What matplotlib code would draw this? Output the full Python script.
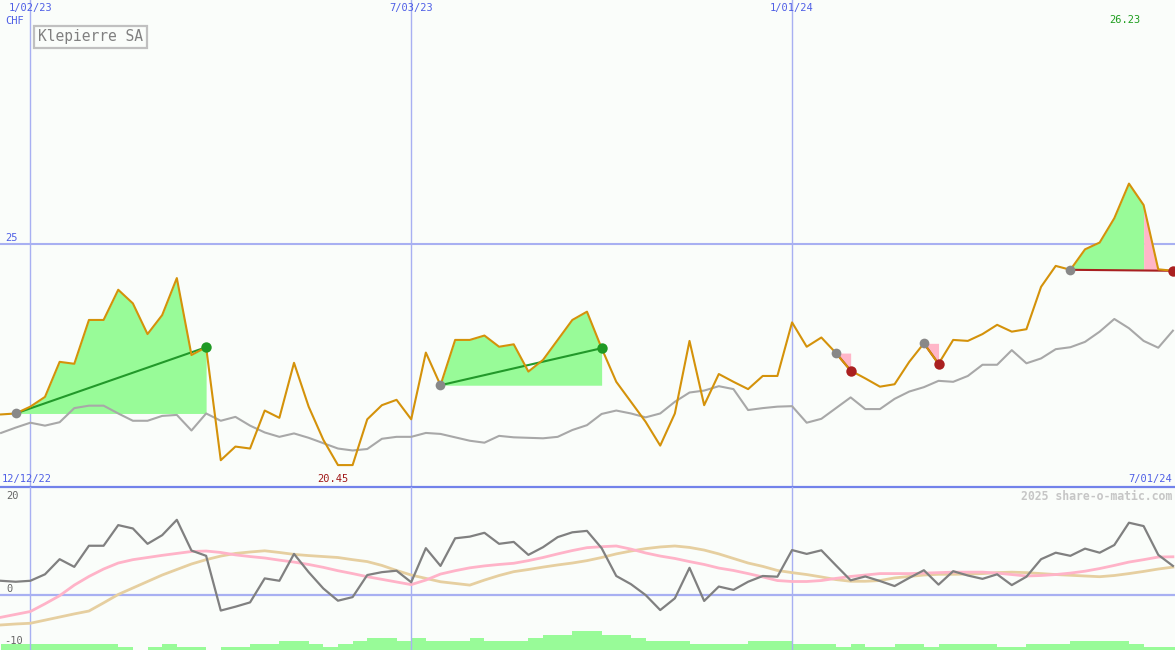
import pandas as pd
import matplotlib
matplotlib.use('Agg')
import matplotlib.pyplot as plt

# weekly data, Klepierre SA (CHF), first point 19 Dec 2022
start_date = '2022-12-19'

price = [21.49, 21.51, 21.65, 21.85, 22.57, 22.53, 23.43, 23.43, 24.05, 23.77,
         23.14, 23.53, 24.29, 22.71, 22.87, 20.55, 20.83, 20.79, 21.57, 21.42,
         22.55, 21.65, 20.97, 20.45, 20.45, 21.39, 21.68, 21.79, 21.39, 22.76,
         22.09, 23.02, 23.02, 23.11, 22.88, 22.93, 22.37, 22.61, 23.02, 23.43,
         23.60, 22.85, 22.16, 21.75, 21.34, 20.85, 21.51, 23.00, 21.68, 22.32,
         22.16, 22.01, 22.28, 22.28, 23.38, 22.88, 23.07, 22.75, 22.39, 22.23,
         22.06, 22.11, 22.57, 22.95, 22.53, 23.02, 23.00, 23.14, 23.33, 23.19,
         23.24, 24.11, 24.54, 24.46, 24.88, 25.02, 25.52, 26.23, 25.79, 24.47,
         24.44]

# relative strength line (grey, same scale as price)
relative = [21.11, 21.22, 21.32, 21.26, 21.33, 21.62, 21.67, 21.67, 21.51, 21.36,
            21.36, 21.46, 21.48, 21.16, 21.51, 21.36, 21.44, 21.26, 21.12, 21.03,
            21.10, 21.01, 20.90, 20.79, 20.75, 20.78, 20.99, 21.03, 21.03, 21.11,
            21.09, 21.02, 20.95, 20.91, 21.05, 21.02, 21.01, 21.00, 21.03, 21.17,
            21.27, 21.50, 21.57, 21.51, 21.43, 21.51, 21.75, 21.94, 21.98, 22.07,
            22.01, 21.58, 21.62, 21.65, 21.66, 21.32, 21.40, 21.62, 21.84, 21.60,
            21.60, 21.81, 21.96, 22.05, 22.18, 22.16, 22.28, 22.51, 22.51, 22.81,
            22.54, 22.64, 22.83, 22.87, 22.98, 23.19, 23.45, 23.26, 23.00, 22.86,
            23.21]

momentum = [2.9, 2.7, 2.9, 4.25, 7.4, 5.8, 10.2, 10.2, 14.5, 13.8,
            10.6, 12.4, 15.6, 9.2, 8.1, -3.3, -2.5, -1.6, 3.4, 2.9,
            8.5, 4.7, 1.3, -1.25, -0.5, 4.1, 4.7, 5.0, 2.6, 9.7,
            6.0, 11.75, 12.1, 12.9, 10.6, 11.0, 8.3, 9.9, 12.0, 13.0,
            13.3, 9.7, 3.9, 2.2, -0.06, -3.2, -0.75, 5.6, -1.3, 1.7,
            1.0, 2.7, 3.9, 3.75, 9.3, 8.5, 9.25, 6.1, 3.0, 3.8,
            2.85, 1.8, 3.5, 5.1, 2.1, 4.9, 4.0, 3.3, 4.25, 2.0,
            3.75, 7.4, 8.75, 8.1, 9.6, 8.75, 10.35, 15.0, 14.3, 8.3,
            6.0]

mom_fast = [-4.7, -4.1, -3.5, -1.9, -0.2, 2.0, 3.8, 5.35, 6.6, 7.3,
            7.75, 8.2, 8.6, 9.0, 9.1, 8.8, 8.3, 7.95, 7.65, 7.2,
            6.8, 6.3, 5.7, 5.0, 4.4, 3.75, 3.2, 2.65, 2.1, 3.05,
            4.3, 5.0, 5.6, 6.0, 6.3, 6.55, 7.1, 7.75, 8.5, 9.2,
            9.8, 10.0, 10.15, 9.5, 8.7, 8.05, 7.55, 6.9, 6.3, 5.55,
            5.05, 4.4, 3.7, 2.95, 2.75, 2.75, 2.95, 3.4, 3.8, 4.1,
            4.4, 4.4, 4.4, 4.5, 4.6, 4.7, 4.7, 4.7, 4.5, 4.2,
            3.9, 4.0, 4.2, 4.5, 4.9, 5.45, 6.1, 6.8, 7.3, 7.85,
            7.9]

mom_slow = [-6.3, -6.1, -5.95, -5.3, -4.65, -4.0, -3.4, -1.7, 0.05, 1.4,
            2.75, 4.1, 5.25, 6.4, 7.3, 8.05, 8.6, 8.9, 9.15, 8.8,
            8.4, 8.15, 7.95, 7.75, 7.3, 6.9, 6.1, 5.05, 4.1, 3.4,
            2.7, 2.35, 2.0, 3.05, 4.0, 4.8, 5.25, 5.75, 6.2, 6.6,
            7.1, 7.75, 8.5, 9.1, 9.6, 9.95, 10.15, 9.85, 9.3, 8.5,
            7.55, 6.6, 5.9, 5.05, 4.6, 4.2, 3.7, 3.15, 2.8, 2.8,
            2.95, 3.5, 3.8, 4.1, 4.25, 4.25, 4.3, 4.4, 4.6, 4.7,
            4.6, 4.4, 4.2, 4.05, 3.9, 3.75, 4.0, 4.4, 4.85, 5.35,
            5.75]

# volume level per week
volume = [2, 2, 2, 2, 2, 2, 2, 2, 1, 0,
          1, 2, 1, 1, 0, 1, 1, 2, 2, 3,
          3, 2, 1, 2, 3, 4, 4, 3, 4, 3,
          3, 3, 4, 3, 3, 3, 4, 5, 5, 6.3,
          6.3, 5, 5, 4, 3, 3, 3, 2, 2, 2,
          2, 3, 3, 3, 2, 2, 2, 1, 2, 1,
          1, 2, 2, 1, 2, 2, 2, 2, 1, 1,
          2, 2, 2, 3, 3, 3, 3, 2, 1, 1,
          1]

grid_dates = ['2023-01-02', '2023-07-03', '2024-01-01']
grid_labels = ['1/02/23', '7/03/23', '1/01/24']

# trades (week index): entry, exit, and week where the fill turns from green to pink
trade_entry = [1, 30, 57, 63, 73]
trade_exit = [14, 41, 58, 64, 80]
trade_split = [14, 41, 57, 63, 78]

BG = '#fafdfa'
GRID = '#a8b0f2'
BLUE_TXT = '#4f5fe6'
MONO = 'DejaVu Sans Mono'

dates = pd.date_range(start_date, periods=len(price), freq='7D')
x_left = pd.Timestamp('2022-12-18 12:00')
x_right = pd.Timestamp('2024-07-02')

W, H = 1175, 650
fig = plt.figure(figsize=(W / 100, H / 100), dpi=100, facecolor=BG)
ax = fig.add_axes([0, 163 / H, 1, 487 / H])
ax_vol = fig.add_axes([0, 0, 1, 163 / H])
ax2 = fig.add_axes([0, 0, 1, 163 / H], facecolor='none')

for a in (ax, ax_vol, ax2):
    a.set_xlim(x_left, x_right)
    a.axis('off')

ax.set_ylim(20, 30)
ax2.set_ylim(-11.52, 22.44)
ax_vol.set_ylim(0, 163 / 3)

# grid
for d in grid_dates:
    ax.axvline(pd.Timestamp(d), color=GRID, lw=1.0, zorder=0)
    ax2.axvline(pd.Timestamp(d), color=GRID, lw=1.0, zorder=0)
ax.axhline(25, color=GRID, lw=1.5, zorder=0)
ax2.axhline(0, color=GRID, lw=1.6, zorder=0)
ax.axhline(20, color='#7282ea', lw=1.6, clip_on=False, zorder=5)

# trade fills
for e, x, s in zip(trade_entry, trade_exit, trade_split):
    base = price[e]
    if s > e:
        ax.fill_between(dates[e:s + 1], price[e:s + 1], base, color='#98fb98', lw=0, zorder=1)
    if x > s:
        ax.fill_between(dates[s:x + 1], price[s:x + 1], base, color='#ffb6c8', lw=0, zorder=1)

ax.plot(dates, relative, color='#a8a8a8', lw=1.5, zorder=2)

for e, x, s in zip(trade_entry, trade_exit, trade_split):
    win = price[x] > price[e]
    ax.plot([dates[e], dates[x]], [price[e], price[x]],
            color='#22992a' if win else '#a82020', lw=1.5, zorder=3)

ax.plot(dates, price, color='#d4920a', lw=1.5, zorder=4)

for e, x in zip(trade_entry, trade_exit):
    win = price[x] > price[e]
    ax.plot(dates[e], price[e], 'o', ms=7, color='#888888', mec='none', zorder=6)
    ax.plot(dates[x], price[x], 'o', ms=7.5, color='#1f9a24' if win else '#aa2020', mec='none', zorder=6)

# lower panel
ax_vol.bar(dates, volume, width=7, align='edge', color='#98fb98', lw=0)
ax2.plot(dates, mom_slow, color='#e6cfa0', lw=2, zorder=2)
ax2.plot(dates, mom_fast, color='#ffb3c8', lw=2, zorder=3)
ax2.plot(dates, momentum, color='#808080', lw=1.6, zorder=4)

# labels
tr = ax.get_xaxis_transform()
for d, lab in zip(grid_dates, grid_labels):
    ax.text(pd.Timestamp(d), 1 - 8 / 487, lab, transform=tr, ha='center', va='center',
            color=BLUE_TXT, fontsize=7.5, family=MONO)


def ftext(px, py, s, **kw):
    fig.text(px / W, 1 - py / H, s, va='center', family=MONO, **kw)


ftext(5, 21, 'CHF', color=BLUE_TXT, fontsize=7.5)
ftext(5, 238, '25', color=BLUE_TXT, fontsize=7.5)
ftext(1125, 20, '26.23', color='#1e9e1e', fontsize=7.5, ha='center')
ftext(333, 479, '20.45', color='#a01818', fontsize=7.5, ha='center')
ftext(2, 479, '12/12/22', color=BLUE_TXT, fontsize=7.5)
ftext(1172, 479, '7/01/24', color=BLUE_TXT, fontsize=7.5, ha='right')
ftext(1172, 496, '2025 share-o-matic.com', color='#c6c6c6', fontsize=8.3,
      ha='right', fontweight='bold')
ftext(6, 496, '20', color='#666666', fontsize=7.5)
ftext(6, 589, '0', color='#666666', fontsize=7.5)
ftext(4, 641, '-10', color='#666666', fontsize=7.5)
ftext(38, 37, 'Klepierre SA', color='#808080', fontsize=10.5,
      bbox=dict(boxstyle='square,pad=0.25', fc=BG, ec='#c0c0c0', lw=1.6))

fig.savefig('out.png', dpi=100, facecolor=BG)
